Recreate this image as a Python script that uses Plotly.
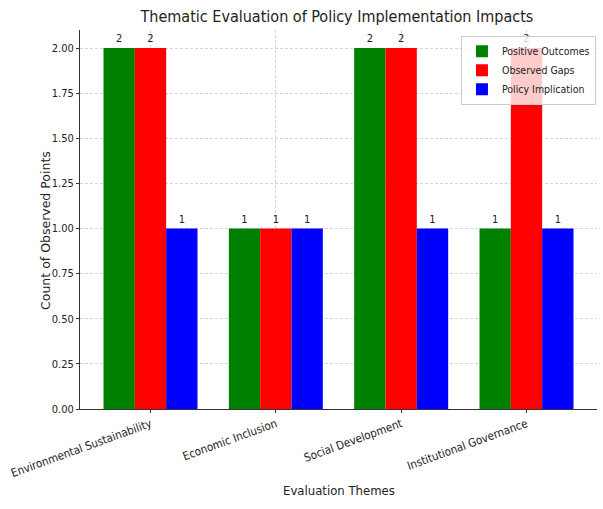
import plotly.graph_objects as go

themes = ["Environmental Sustainability", "Economic Inclusion",
          "Social Development", "Institutional Governance"]
positive_outcomes = [2, 1, 2, 1]
observed_gaps = [2, 1, 2, 2]
policy_implication = [1, 1, 1, 1]

series = [
    ("Positive Outcomes", positive_outcomes, "#008000"),
    ("Observed Gaps", observed_gaps, "#ff0000"),
    ("Policy Implication", policy_implication, "#0000ff"),
]

narrow = "DejaVu Sans Condensed, Liberation Sans Narrow, Liberation Sans, sans-serif"

fig = go.Figure()
for name, vals, col in series:
    fig.add_trace(go.Bar(
        x=themes, y=vals, name=name, marker_color=col, marker_line_width=0,
        text=vals, textposition="outside", cliponaxis=False,
        textfont=dict(size=11, color="#222", family=narrow),
    ))

fig.update_layout(
    width=603, height=509,
    margin=dict(l=80, r=6, t=30, b=100),
    paper_bgcolor="white", plot_bgcolor="white",
    barmode="group", bargap=0.25, bargroupgap=0,
    font=dict(family=narrow, color="#222"),
    title=dict(text="Thematic Evaluation of Policy Implementation Impacts",
               xref="paper", x=0.497, xanchor="center", y=0.968, yanchor="middle",
               font=dict(size=16, family=narrow, color="#222")),
    legend=dict(x=0.998, y=0.985, xanchor="right", yanchor="top",
                bgcolor="rgba(255,255,255,0.8)", bordercolor="#ccc", borderwidth=1,
                font=dict(size=10.5, family=narrow, color="#222"),
                itemsizing="constant", tracegroupgap=0, itemwidth=30),
    showlegend=True,
    annotations=[
        dict(text="Evaluation Themes", x=0.5, xref="paper",
             y=-0.216, yref="paper", yanchor="middle", showarrow=False,
             font=dict(size=13, family=narrow, color="#222")),
        dict(text="Count of Observed Points", x=-0.068, xref="paper", xanchor="center",
             y=0.472, yref="paper", yanchor="middle", textangle=-90, showarrow=False,
             font=dict(size=12.5, family="DejaVu Sans", color="#222")),
    ],
)
fig.update_xaxes(
    range=[-0.5625, 3.5625], tickangle=-20, tickfont=dict(size=11.5),
    showline=True, linecolor="#333", linewidth=1, automargin=False,
    showgrid=True, gridcolor="#d4d4d4", griddash="3px,2px", gridwidth=1,
    ticks="outside", ticklen=3, tickcolor="#333",
)
fig.update_yaxes(
    range=[0, 2.1], tick0=0, dtick=0.25, tickformat=".2f", tickfont=dict(size=11),
    showline=True, linecolor="#333", linewidth=1, automargin=False,
    showgrid=True, gridcolor="#d4d4d4", griddash="3px,2px", gridwidth=1,
    ticks="outside", ticklen=3, tickcolor="#333", zeroline=False,
)

fig.write_html("out.html", config={"displayModeBar": False},
               post_script="document.body.style.margin='0';")
